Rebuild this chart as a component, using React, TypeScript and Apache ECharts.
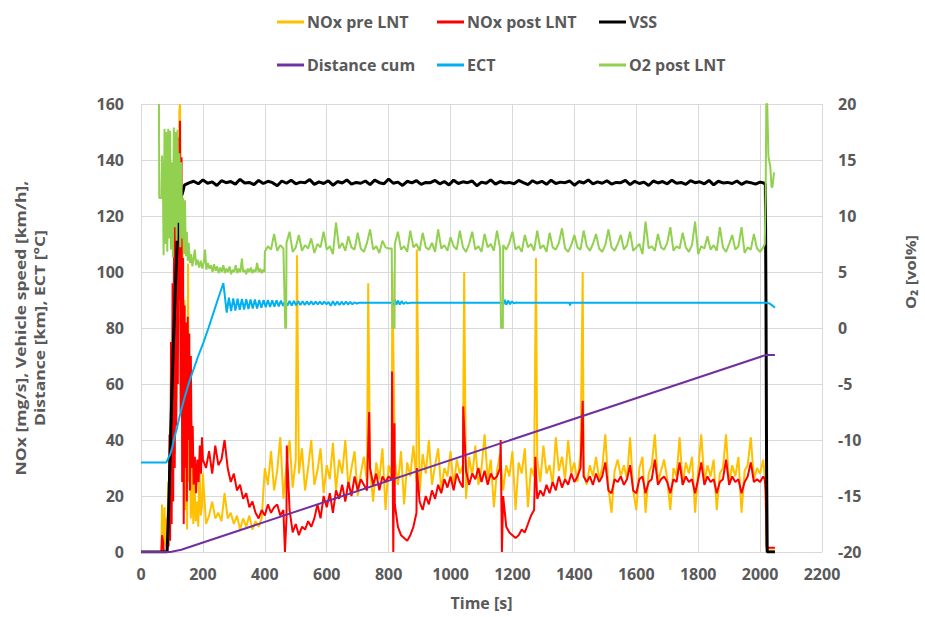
import React, { useEffect, useRef } from "react";
import * as echarts from "echarts";

const FONT = '"Open Sans", "Noto Sans", sans-serif';
const LABEL_COLOR = "#595959";
const GRID_COLOR = "#d9d9d9";

// ---- axes ----
const X_MIN = 0, X_MAX = 2200, X_INTERVAL = 200;
const Y_MIN = 0, Y_MAX = 160, Y_INTERVAL = 20;
const Y2_MIN = -20, Y2_MAX = 20, Y2_INTERVAL = 5;

const X_TITLE = "Time [s]";
const Y_TITLE_1 = "NOx [mg/s], Vehicle speed [km/h],";
const Y_TITLE_2 = "Distance [km], ECT [°C]";
const Y2_TITLE = "O\u2082 [vol%]";

const SERIES_NAMES = ["NOx pre LNT", "NOx post LNT", "VSS", "Distance cum", "ECT", "O2 post LNT"];
const SERIES_COLORS = ["#FFC000", "#FF0000", "#000000", "#7030A0", "#00B0F0", "#92D050"];

// ---- NOx pre LNT [mg/s] ----
const noxPreStart: [number, number][] = [
  [0, 0], [66, 0], [68, 17], [70, 1], [73, 4], [76, 16], [79, 2], [82, 12], [85, 3], [88, 25], [91, 5],
  [94, 45], [97, 10], [100, 70], [103, 20], [106, 95], [109, 35], [112, 120], [115, 55], [118, 140],
  [121, 80], [124, 158], [126, 160], [128, 130], [131, 70], [134, 115], [137, 30], [140, 90], [143, 15],
  [146, 70], [149, 8], [152, 103], [155, 25], [158, 40], [161, 12], [165, 30], [169, 10], [173, 24],
  [177, 11], [181, 18], [185, 9], [189, 31], [193, 13], [197, 16],
];
// sampled every 10 s from 200 s
const noxPreSampleStart = 200;
const noxPreSampleStep = 10;
const noxPreSamples = [
  28, 10, 13, 18, 12, 14, 11, 21, 12, 14,
  10, 13, 8, 12, 9, 13, 8, 11, 9, 12,
  30, 24, 36, 22, 29, 41, 19, 31, 40, 23,
  33, 28, 37, 22, 30, 40, 24, 29, 37, 21,
  31, 26, 39, 22, 33, 28, 40, 23, 30, 36,
  20, 28, 34, 25, 29, 18, 32, 26, 37, 15,
  31, 27, 33, 24, 36, 17, 32, 27, 38, 25,
  21, 35, 28, 40, 24, 31, 37, 22, 30, 27,
  36, 23, 33, 28, 31, 19, 34, 27, 38, 24,
  30, 42, 26, 33, 16, 29, 35, 22, 31, 27,
  36, 15, 32, 28, 37, 16, 30, 27, 33, 25,
  38, 28, 31, 24, 41, 29, 34, 26, 40, 28,
  32, 25, 35, 28, 24, 31, 27, 34, 26, 30,
  42, 23, 14, 29, 33, 27, 31, 26, 41, 22,
  15, 30, 34, 14, 28, 31, 42, 25, 29, 33,
  26, 15, 30, 27, 41, 24, 32, 28, 34, 14,
  29, 42, 25, 31, 27, 33, 15, 28, 30, 42,
  24, 31, 27, 34, 14, 29, 31, 41, 26, 30,
  28, 33,
];
const noxPreEvents: [number, number][] = [
  [504, 106], [734, 96], [812, 100], [891, 108], [1044, 100], [1276, 105], [1427, 100],
];
const noxPreEnd: [number, number][] = [[2015, 27], [2018, 20], [2021, 1], [2024, 0.5], [2048, 0.5]];

// ---- NOx post LNT [mg/s] ----
const noxPostStart: [number, number][] = [
  [0, 0], [66, 0], [68, 6], [71, 4], [74, 0], [85, 0], [87, 14], [89, 2], [92, 42], [94, 4], [97, 75],
  [99, 10], [102, 96], [104, 18], [107, 118], [109, 30], [112, 135], [114, 45], [117, 125], [119, 60],
  [122, 148], [124, 90], [126, 154], [128, 50], [131, 141], [133, 25], [136, 105], [138, 10], [141, 88],
  [143, 30], [146, 82], [148, 18], [151, 84], [153, 40], [156, 78], [158, 22], [161, 70], [164, 30],
  [167, 45], [170, 24], [174, 34], [178, 21], [182, 33], [186, 25], [190, 38], [194, 28], [197, 41],
];
const noxPostSampleStart = 200;
const noxPostSampleStep = 10;
const noxPostSamples = [
  33, 30, 36, 28, 38, 31, 33, 40, 30, 25,
  28, 22, 24, 19, 21, 16, 18, 14, 12, 15,
  13, 17, 14, 16, 17, 13, 15, 12, 15, 7,
  10, 6, 9, 8, 11, 9, 12, 17, 12, 20,
  16, 21, 14, 22, 19, 24, 18, 25, 20, 27,
  22, 26, 24, 22, 30, 24, 28, 22, 27, 25,
  27, 26, 17, 9, 6, 5, 4, 6, 9, 14,
  18, 15, 20, 17, 22, 19, 24, 21, 26, 23,
  27, 22, 28, 25, 23, 29, 24, 28, 26, 30,
  25, 29, 24, 28, 26, 27, 30, 20, 9, 7,
  6, 5, 6, 8, 7, 10, 13, 15, 19, 22,
  20, 24, 21, 25, 22, 27, 23, 26, 24, 28,
  25, 27, 30, 27, 25, 27, 24, 28, 25, 27,
  32, 22, 21, 26, 25, 27, 24, 26, 31, 22,
  21, 26, 27, 21, 25, 26, 33, 24, 26, 27,
  25, 21, 26, 25, 32, 24, 27, 25, 26, 21,
  26, 32, 24, 27, 25, 26, 21, 25, 26, 33,
  24, 27, 25, 26, 21, 25, 27, 32, 25, 26,
  25, 27,
];
const noxPostEvents: [number, number][] = [
  [465, 0], [471, 38], [737, 50], [811, 64.5], [815, 0], [819, 46], [891, 30],
  [1041, 52], [1162, 40], [1166, 0], [1274, 34], [1427, 54],
];
const noxPostEnd: [number, number][] = [[2015, 26], [2018, 22], [2021, 2], [2024, 1.5], [2048, 1.5]];

// ---- VSS [km/h] ----
const vssStart: [number, number][] = [
  [0, 0], [84, 0], [88, 10], [92, 26], [96, 42], [100, 58], [104, 72], [108, 85], [112, 97],
  [116, 108], [120, 117], [124, 124], [128, 128], [132, 127.5], [136, 129],
];
const vssSampleStart = 140;
const vssSampleStep = 15;
const vssSamples = [
  131.0, 131.8, 132.4, 131.5, 132.9, 131.7, 132.2, 130.9, 132.6, 131.9,
  132.3, 131.4, 133.1, 131.8, 132.0, 131.2, 132.7, 131.6, 132.4, 131.9,
  130.8, 132.5, 131.7, 132.8, 131.5, 132.1, 131.9, 133.0, 131.3, 132.2,
  131.6, 132.6, 131.0, 132.3, 131.8, 132.9, 131.4, 132.0, 131.7, 132.5,
  131.2, 132.8, 131.9, 131.5, 133.2, 131.7, 132.1, 130.9, 132.4, 131.8,
  132.6, 131.3, 132.0, 131.9, 132.7, 131.5, 132.3, 131.1, 132.8, 131.6,
  132.2, 131.9, 132.5, 130.8, 132.1, 131.7, 132.9, 131.4, 132.3, 131.8,
  132.0, 131.5, 132.7, 131.9, 131.2, 132.6, 131.7, 132.4, 131.3, 132.8,
  131.6, 132.1, 131.9, 132.5, 131.0, 132.3, 131.8, 132.9, 131.5, 132.2,
  131.7, 132.6, 131.4, 132.0, 131.9, 132.7, 131.2, 132.4, 131.6, 132.1,
  130.9, 132.5, 131.8, 132.3, 131.5, 132.8, 131.7, 132.0, 131.3, 132.6,
  131.9, 132.2, 131.5, 132.7, 131.1, 132.4, 131.8, 132.0, 131.6, 132.5,
  131.3, 132.2, 131.9, 131.4, 132.1,
];
const vssEnd: [number, number][] = [[2012, 131.8], [2017, 131.2], [2019, 90], [2021, 30], [2023, 0], [2048, 0]];

// ---- Distance cum [km] ----
const distance: [number, number][] = [[0, 0], [95, 0], [130, 0.8], [2020, 70.4], [2048, 70.4]];

// ---- ECT [°C] ----
const ect: [number, number][] = [
  [0, 32], [82, 32], [88, 33.5], [94, 34.7], [100, 37], [108, 41], [115, 43.7], [128, 50], [142, 55.6],
  [155, 60.5], [169, 65], [185, 70], [201, 74.6], [218, 80], [234, 85.4], [250, 90.8], [266, 96],
  [277, 85.5], [284, 90.8], [291, 86], [298, 90.6], [305, 86.2], [312, 90.5], [319, 86.5], [326, 90.4],
  [333, 86.6], [340, 90.3], [347, 86.8], [354, 90.2], [361, 87], [368, 90.2], [375, 87], [382, 90],
  [389, 87.2], [396, 90], [403, 87.4], [410, 90], [417, 87.5], [424, 89.9], [431, 87.6], [438, 89.9],
  [445, 87.7], [452, 89.8], [459, 87.9], [466, 89.8], [473, 88], [480, 89.7], [487, 88], [494, 89.7],
  [501, 88.1], [508, 89.6], [515, 88.2], [522, 89.6], [529, 88.2], [536, 89.5], [543, 88.3], [550, 89.5],
  [557, 88.3], [564, 89.4], [571, 88.4], [578, 89.4], [585, 88.4], [592, 89.4], [599, 88.5], [606, 89.3],
  [613, 87.9], [620, 89.6], [627, 88.1], [634, 89.5], [641, 88.2], [648, 89.4], [655, 88.3], [662, 89.4],
  [669, 88.4], [676, 89.3], [683, 88.5], [690, 89.2], [697, 88.7], [704, 89],
  [812, 89], [816, 88.2], [820, 90.2], [825, 88.3], [830, 89.8], [836, 88.4], [842, 89.6], [848, 88.6],
  [855, 89.2], [862, 88.8], [870, 89], [1166, 89], [1170, 88.2], [1175, 90.1], [1180, 88.3], [1186, 89.8],
  [1192, 88.5], [1198, 89.5], [1205, 88.8], [1212, 89.1], [1220, 89], [1384, 89], [1386, 88], [1388, 89],
  [2020, 89], [2030, 88.8], [2040, 88], [2048, 87.2],
];

// ---- O2 post LNT [vol%] (right axis) ----
const o2Start: [number, number][] = [
  [58, 20], [59, 11.6], [66, 11.6], [68, 15.4], [71, 12.5], [73, 6.5], [76, 17.8], [79, 7.5], [82, 17.5],
  [85, 6.8], [88, 17.8], [91, 8], [94, 17.6], [97, 7], [100, 14.8], [103, 6.3], [106, 17.9], [109, 9],
  [112, 17.5], [115, 7.8], [118, 17.7], [121, 9.4], [124, 15.6], [127, 7.2], [130, 14.8], [133, 8],
  [136, 11.6], [139, 6.6], [142, 11.4], [145, 6.4], [148, 8.6], [151, 6], [154, 7.6], [158, 5.8],
  [162, 6.6], [166, 5.5], [170, 6.2], [174, 7.0], [178, 5.6], [183, 6.1], [188, 5.4], [193, 6.0],
  [198, 5.3], [203, 5.9], [207, 7.0], [211, 5.2], [216, 5.8], [221, 5.3], [226, 5.6], [231, 5.0],
  [236, 5.7], [241, 5.1], [246, 5.5], [251, 4.9], [256, 5.4], [261, 5.0], [266, 5.6], [271, 4.9],
  [276, 5.3], [281, 5.0], [286, 5.5], [291, 4.8], [296, 5.2], [301, 5.0], [306, 5.6], [311, 4.9],
  [316, 5.3], [321, 5.0], [326, 6.2], [330, 5.0], [335, 5.2], [340, 4.8], [345, 5.3], [350, 5.0],
  [355, 5.4], [360, 4.9], [365, 5.2], [370, 5.0], [375, 5.8], [380, 5.0], [385, 5.3], [390, 4.9],
  [395, 5.2], [399, 5.0],
];
const o2SampleStart = 400;
const o2SampleStep = 10;
const o2Samples = [
  6.8, 7.3, 7.0, 8.4, 6.9, 7.4, 7.1, 7.6, 8.6, 6.8,
  7.2, 8.3, 6.9, 7.4, 7.1, 8.0, 6.7, 7.5, 7.2, 8.6,
  7.0, 7.3, 6.6, 9.4, 7.1, 7.6, 6.9, 8.2, 7.2, 7.0,
  8.5, 7.1, 6.8, 7.6, 8.8, 7.0, 7.3, 6.7, 7.8, 7.2,
  7.1, 7.1, 7.5, 8.6, 7.0, 7.3, 6.8, 8.7, 7.2, 7.5,
  6.9, 8.5, 7.2, 7.0, 7.6, 6.8, 8.8, 7.1, 7.4, 6.9,
  8.1, 7.3, 7.0, 8.7, 7.2, 6.8, 7.5, 8.6, 7.0, 7.3,
  6.8, 8.4, 7.2, 7.5, 6.9, 8.7, 7.1, 7.4, 7.0, 7.6,
  8.6, 7.0, 7.3, 6.8, 8.3, 7.2, 7.5, 6.9, 8.7, 7.1,
  7.4, 6.8, 8.5, 7.2, 7.0, 7.6, 8.9, 7.1, 6.8, 7.4,
  8.3, 7.2, 7.0, 8.7, 7.3, 6.9, 7.5, 8.4, 7.1, 6.8,
  7.4, 8.8, 7.2, 6.9, 7.5, 8.3, 7.0, 7.4, 8.6, 6.9,
  7.2, 7.5, 6.6, 9.5, 7.1, 7.3, 6.9, 8.4, 7.2, 7.0,
  7.6, 9.0, 6.9, 7.3, 7.1, 8.5, 7.2, 6.8, 7.4, 9.5,
  6.6, 7.3, 7.1, 8.2, 7.0, 7.4, 6.9, 9.0, 7.2, 6.8,
  7.5, 8.3, 7.0, 7.3, 9.0, 6.7, 7.2, 7.0, 8.4, 7.1,
  6.8, 7.2,
];
const o2Events: [number, number][] = [
  [466, 0], [469, 0], [812, 0], [819, 0], [1163, 0], [1169, 0],
];
const o2End: [number, number][] = [
  [2015, 7.5], [2018, 12], [2020, 20], [2023, 20], [2027, 15.3], [2033, 14.4], [2037, 12.6],
  [2040, 12.6], [2045, 13.9],
];

// ---- helpers ----
function sampled(start: number, step: number, values: number[]): [number, number][] {
  return values.map((v, i) => [start + i * step, v] as [number, number]);
}
function merged(...parts: [number, number][][]): [number, number][] {
  const all: [number, number][] = [];
  parts.forEach((p) => p.forEach((d) => all.push(d)));
  return all.sort((a, b) => a[0] - b[0]);
}

const LEGEND_POS: { left: number; top: number }[] = [
  { left: 272, top: 9 }, { left: 432, top: 9 }, { left: 594, top: 9 },
  { left: 272, top: 52 }, { left: 432, top: 52 }, { left: 594, top: 52 },
];

export default function App() {
  const ref = useRef<HTMLDivElement>(null);
  useEffect(() => {
    document.body.style.margin = "0";
    if (!ref.current) return;
    const chart = echarts.init(ref.current, null, { renderer: "svg" });

    const dataSets: [number, number][][] = [
      merged(noxPreStart, sampled(noxPreSampleStart, noxPreSampleStep, noxPreSamples), noxPreEvents, noxPreEnd),
      merged(noxPostStart, sampled(noxPostSampleStart, noxPostSampleStep, noxPostSamples), noxPostEvents, noxPostEnd),
      merged(vssStart, sampled(vssSampleStart, vssSampleStep, vssSamples), vssEnd),
      distance,
      ect,
      merged(o2Start, sampled(o2SampleStart, o2SampleStep, o2Samples), o2Events, o2End),
    ];

    const labelStyle = { color: LABEL_COLOR, fontFamily: FONT, fontSize: 16, fontWeight: "bold" as const };
    const titleStyle = (text: string, x: number, y: number, sx: number) => ({
      type: "text",
      x,
      y,
      rotation: Math.PI / 2,
      scaleX: sx,
      scaleY: 1,
      style: {
        text,
        fill: LABEL_COLOR,
        font: `bold 15px ${FONT}`,
        align: "center",
        verticalAlign: "middle",
        textAlign: "center",
        textVerticalAlign: "middle",
      },
    });

    const option: any = {
      animation: false,
      textStyle: { fontFamily: FONT },
      grid: { left: 141, right: 103, top: 104, bottom: 65, containLabel: false },
      legend: SERIES_NAMES.map((name, i) => ({
        data: [{ name, icon: "rect" }],
        left: LEGEND_POS[i].left,
        top: LEGEND_POS[i].top,
        itemWidth: 27,
        itemHeight: 3,
        itemGap: 0,
        selectedMode: false,
        textStyle: {
          color: LABEL_COLOR,
          fontFamily: FONT,
          fontSize: 16,
          fontWeight: "bold",
          padding: [0, 0, 0, -2],
        },
      })),
      xAxis: {
        type: "value",
        min: X_MIN,
        max: X_MAX,
        interval: X_INTERVAL,
        axisLine: { show: true, lineStyle: { color: GRID_COLOR, width: 1 } },
        axisTick: { show: false },
        splitLine: { show: true, lineStyle: { color: GRID_COLOR, width: 1 } },
        axisLabel: { ...labelStyle, margin: 14, formatter: (v: number) => String(v) },
        name: X_TITLE,
        nameLocation: "middle",
        nameGap: 43,
        nameTextStyle: { ...labelStyle },
      },
      yAxis: [
        {
          type: "value",
          min: Y_MIN,
          max: Y_MAX,
          interval: Y_INTERVAL,
          axisLine: { show: false },
          axisTick: { show: false },
          splitLine: { show: true, lineStyle: { color: GRID_COLOR, width: 1 } },
          axisLabel: { ...labelStyle, margin: 17, formatter: (v: number) => String(v) },
        },
        {
          type: "value",
          position: "right",
          min: Y2_MIN,
          max: Y2_MAX,
          interval: Y2_INTERVAL,
          axisLine: { show: false },
          axisTick: { show: false },
          splitLine: { show: false },
          axisLabel: { ...labelStyle, margin: 16, formatter: (v: number) => String(v) },
        },
      ],
      graphic: [
        titleStyle(Y_TITLE_1, 20, 328, 1.17),
        titleStyle(Y_TITLE_2, 39, 328, 1.17),
        titleStyle(Y2_TITLE, 910, 272, 1.1),
      ],
      series: SERIES_NAMES.map((name, i) => ({
        name,
        type: "line",
        yAxisIndex: i === 5 ? 1 : 0,
        data: dataSets[i],
        showSymbol: false,
        symbol: "none",
        color: SERIES_COLORS[i],
        lineStyle: { color: SERIES_COLORS[i], width: i === 2 ? 3 : 2 },
        clip: true,
      })),
    };

    chart.setOption(option);
    return () => chart.dispose();
  }, []);

  return <div ref={ref} style={{ width: 925, height: 617 }} />;
}
